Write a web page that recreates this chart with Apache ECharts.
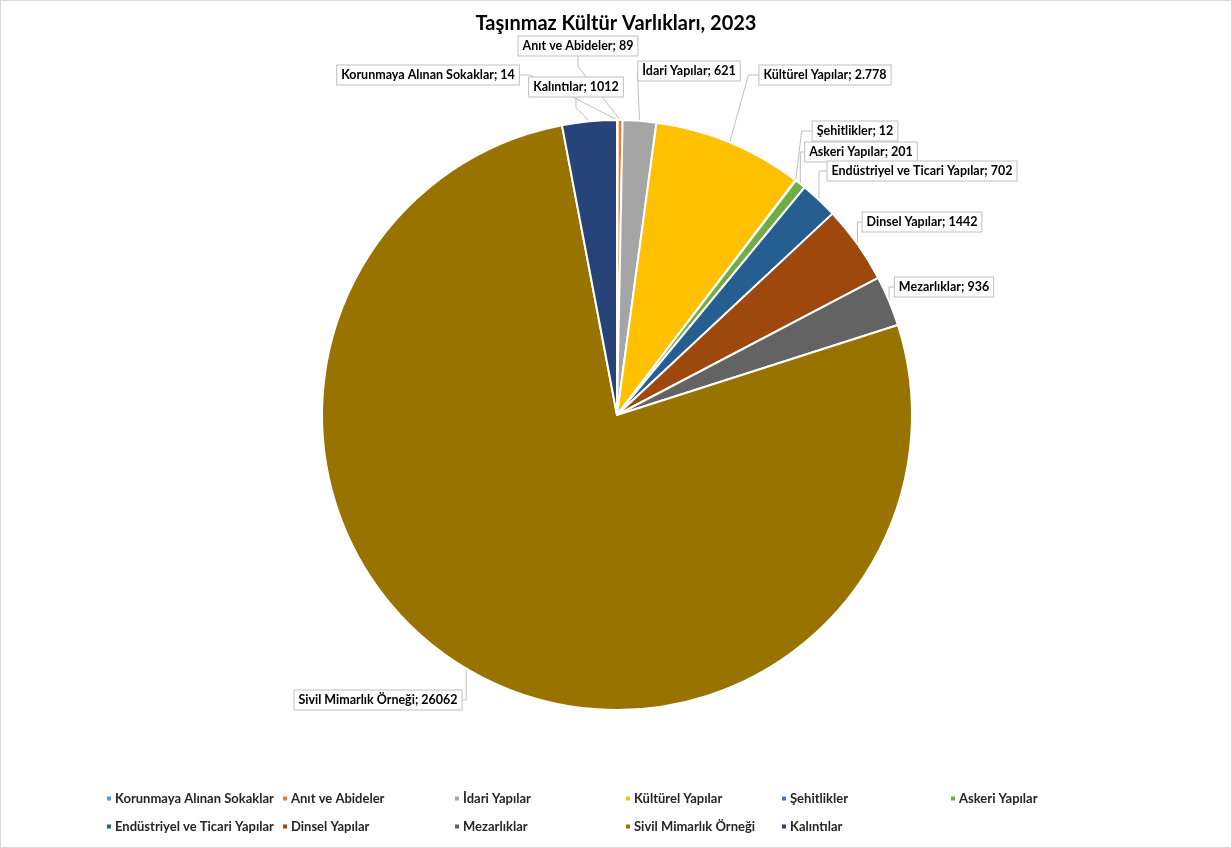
<!DOCTYPE html>
<html>
<head>
<meta charset="utf-8">
<script src="https://cdn.jsdelivr.net/npm/echarts@6/dist/echarts.min.js"></script>
<style>
  html, body { margin: 0; padding: 0; background: #fff; }
  #chart { width: 1230px; height: 846px; border: 1px solid #d9d9d9; }
</style>
</head>
<body>
<div id="chart"></div>
<script>
// Veriler
const names = ['Korunmaya Alınan Sokaklar', 'Anıt ve Abideler', 'İdari Yapılar', 'Kültürel Yapılar',
  'Şehitlikler', 'Askeri Yapılar', 'Endüstriyel ve Ticari Yapılar', 'Dinsel Yapılar',
  'Mezarlıklar', 'Sivil Mimarlık Örneği', 'Kalıntılar'];
const values = [14, 89, 621, 2778, 12, 201, 702, 1442, 936, 26062, 1012];
const valueText = ['14', '89', '621', '2.778', '12', '201', '702', '1442', '936', '26062', '1012'];
const colors = ['#5B9BD5', '#ED7D31', '#A5A5A5', '#FFC000', '#4472C4', '#70AD47',
  '#255E91', '#9E480E', '#636363', '#997300', '#264478'];

// Etiket kutularının merkezleri (piksel)
const labelPos = [[427, 74], [577, 45], [688, 70], [824, 74], [854, 130], [860, 151],
  [921, 170], [921, 221], [943, 286], [377, 699], [575, 86]];

// Lejant sütunları
const legendCols = [104, 280, 452, 623, 779, 948];
const legendRows = [798, 826];

const font = 'Lato, "Open Sans", sans-serif';

const legends = names.map((n, i) => ({
  data: [n],
  left: legendCols[i % 6],
  top: legendRows[Math.floor(i / 6)] - 7,
  padding: 0,
  icon: 'rect',
  itemWidth: 6,
  itemHeight: 6,
  itemGap: 0,
  selectedMode: false,
  textStyle: { fontFamily: font, fontSize: 13, fontWeight: 'bold', color: '#262626', padding: [0, 0, 0, -2] }
}));

const chart = echarts.init(document.getElementById('chart'));

chart.setOption({
  animation: false,
  title: {
    text: 'Taşınmaz Kültür Varlıkları, 2023',
    left: 'center',
    top: 8,
    textStyle: { fontFamily: font, fontSize: 20, fontWeight: 'bold', color: '#000' }
  },
  legend: legends,
  series: [{
    type: 'pie',
    center: [616, 414],
    radius: 295,
    startAngle: 90,
    clockwise: true,
    avoidLabelOverlap: false,
    itemStyle: { borderColor: '#fff', borderWidth: 2 },
    label: {
      show: true,
      position: 'outside',
      formatter: p => p.name + '; ' + valueText[p.dataIndex],
      fontFamily: font,
      fontSize: 12.5,
      fontWeight: 'bold',
      color: '#000',
      backgroundColor: '#fff',
      borderColor: '#bfbfbf',
      borderWidth: 1,
      padding: [3, 4, 3, 4]
    },
    labelLine: {
      show: true,
      length: 10,
      length2: 10,
      lineStyle: { color: '#bfbfbf', width: 1 }
    },
    labelLayout: p => ({
      x: labelPos[p.dataIndex][0],
      y: labelPos[p.dataIndex][1],
      align: 'center',
      verticalAlign: 'middle'
    }),
    emphasis: { disabled: true },
    data: names.map((n, i) => ({ name: n, value: values[i], itemStyle: { color: colors[i] } }))
  }]
});
</script>
</body>
</html>
